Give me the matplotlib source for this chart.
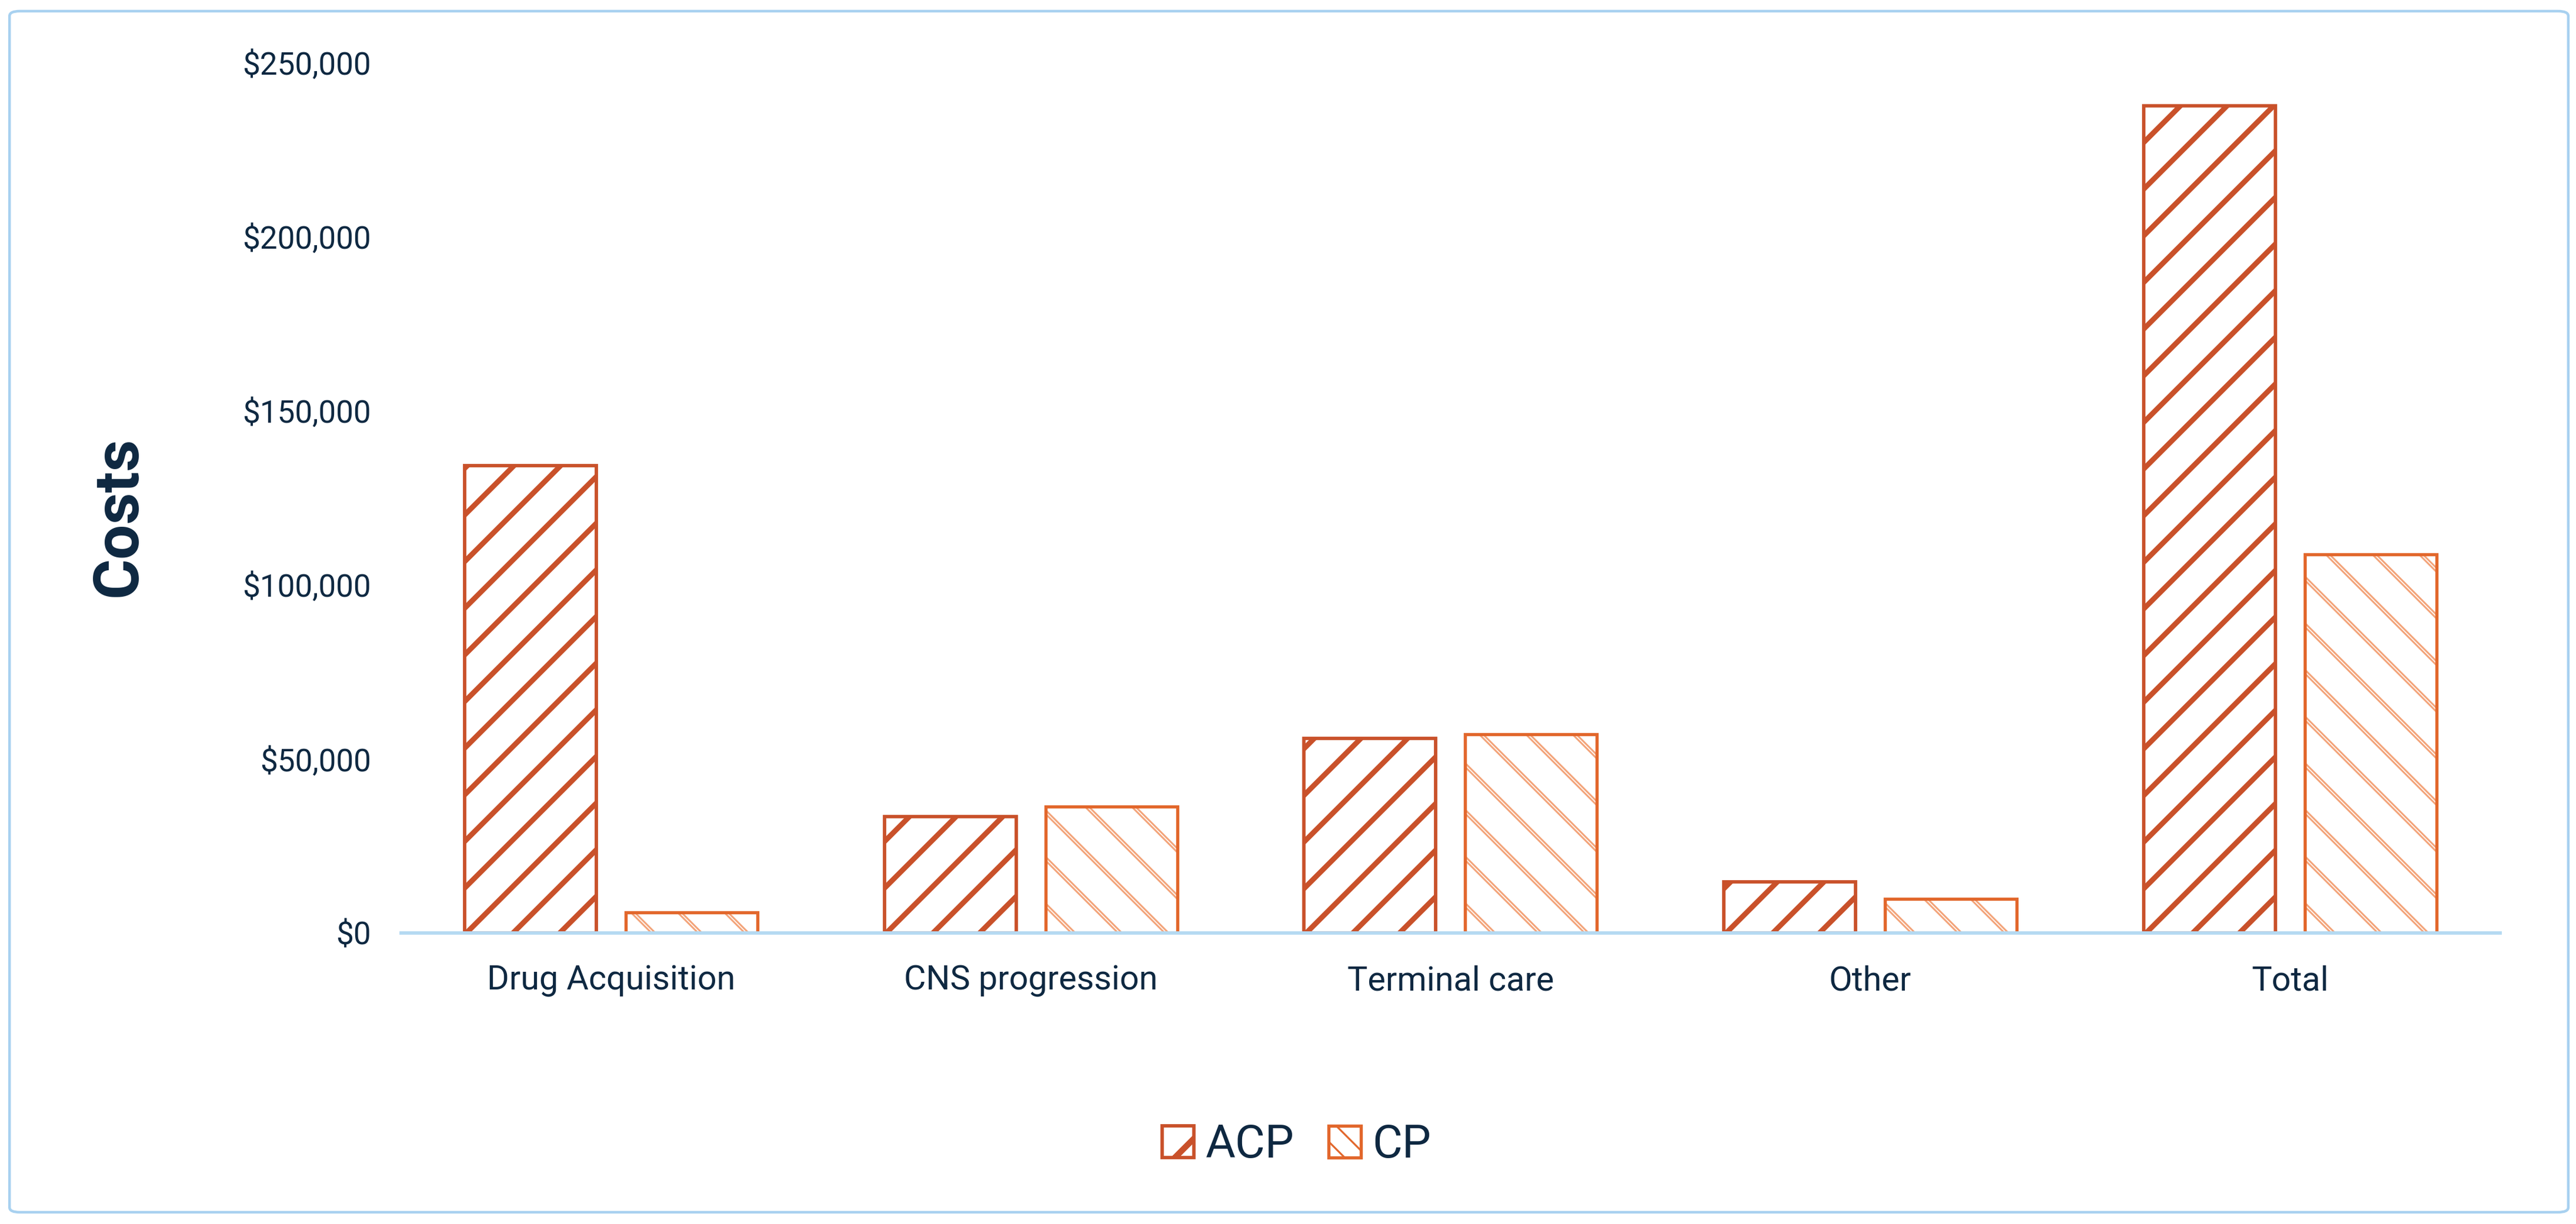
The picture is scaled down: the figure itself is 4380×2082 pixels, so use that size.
import numpy as np
import matplotlib
matplotlib.use("Agg")
import matplotlib.pyplot as plt
from matplotlib.patches import FancyBboxPatch, Patch

# data
categories = ["Drug Acquisition", "CNS progression", "Terminal care", "Other", "Total"]
acp_costs = [134200, 33400, 55900, 14600, 237500]
cp_costs = [5950, 36300, 57000, 9800, 108700]
y_ticks = [0, 50000, 100000, 150000, 200000, 250000]

TEXT = "#0E2841"
ACP_COL = "#C9512A"
CP_EDGE = "#E2672C"
CP_HATCH = "#F3A47A"
AXIS_COL = "#B5DAF2"
BORDER = "#A8D1F0"

DPI = 238
K = 230 / DPI  # keep pixel sizes tuned at 230 dpi
plt.rcParams["font.family"] = ["Roboto", "DejaVu Sans"]


def set_hlw(p, lw):
    # hatch line width is stored on the patch when it is created (mpl 3.10)
    if hasattr(p, "set_hatch_linewidth"):
        p.set_hatch_linewidth(lw)
    else:
        p._hatch_linewidth = lw


fig = plt.figure(figsize=(4380 / DPI, 2082 / DPI), dpi=DPI)
ax = fig.add_axes([0.1557, 0.2378, 0.8148, 0.7113])

x = np.arange(len(categories))
w = 0.314
off = 0.192


def hatched_bars(xpos, vals, hatch, hcol, lw, z):
    with plt.rc_context({"hatch.linewidth": lw}):
        bars = ax.bar(xpos, vals, w, facecolor="none", edgecolor=hcol,
                      hatch=hatch, linewidth=0, zorder=z)
    for b in bars:
        set_hlw(b, lw)
    return bars


# ACP: thick dark diagonal lines
hatched_bars(x - off, acp_costs, "/", ACP_COL, 2.8 * K, 2)
ax.bar(x - off, acp_costs, w, facecolor="none", edgecolor=ACP_COL, linewidth=1.8 * K, zorder=4)

# CP: light double lines (wide light line split by thin white line)
hatched_bars(x + off, cp_costs, "\\", CP_HATCH, 2.4 * K, 2)
hatched_bars(x + off, cp_costs, "\\", "white", 0.5 * K, 3)
ax.bar(x + off, cp_costs, w, facecolor="none", edgecolor=CP_EDGE, linewidth=1.7 * K, zorder=4)

ax.set_xlim(-0.5, len(categories) - 0.5)
ax.set_ylim(0, 250000)
ax.set_yticks(y_ticks)
ax.set_yticklabels([f"${v:,.0f}" for v in y_ticks])
ax.set_xticks(x)
ax.set_xticklabels(categories)
ax.tick_params(axis="y", length=0, pad=16 * K, labelsize=16.6 * K, labelcolor=TEXT)
ax.tick_params(axis="x", length=0, pad=17 * K, labelsize=18 * K, labelcolor=TEXT)

for s in ["top", "right", "left"]:
    ax.spines[s].set_visible(False)
ax.spines["bottom"].set_color(AXIS_COL)
ax.spines["bottom"].set_linewidth(1.8 * K)
ax.spines["bottom"].set_zorder(5)

fig.text(0.0463, 0.578, "Costs", rotation=90, ha="center", va="center",
         fontsize=33 * K, fontweight="bold", color=TEXT)

# legend
h_acp = Patch(facecolor="white", edgecolor=ACP_COL, hatch="/", linewidth=1.8 * K, label="ACP")
h_cp = Patch(facecolor="white", edgecolor=CP_EDGE, hatch="\\\\", linewidth=1.7 * K, label="CP")
leg = fig.legend(handles=[h_acp, h_cp], loc="center", bbox_to_anchor=(0.5033, 0.0644),
                 ncol=2, frameon=False, fontsize=24.4 * K, handlelength=0.7, handleheight=0.68,
                 handletextpad=0.25, columnspacing=0.75, borderaxespad=0)
for t in leg.get_texts():
    t.set_color(TEXT)
lh = leg.legend_handles
set_hlw(lh[0], 3.2 * K)
set_hlw(lh[1], 1.0 * K)

# outer rounded border
border = FancyBboxPatch((0.0037, 0.0096), 0.9933, 0.9813,
                        boxstyle="round,pad=0,rounding_size=0.004",
                        transform=fig.transFigure, facecolor="none",
                        edgecolor=BORDER, linewidth=1.4 * K)
fig.patches.append(border)

fig.savefig("out.png", dpi=DPI, facecolor="white")
